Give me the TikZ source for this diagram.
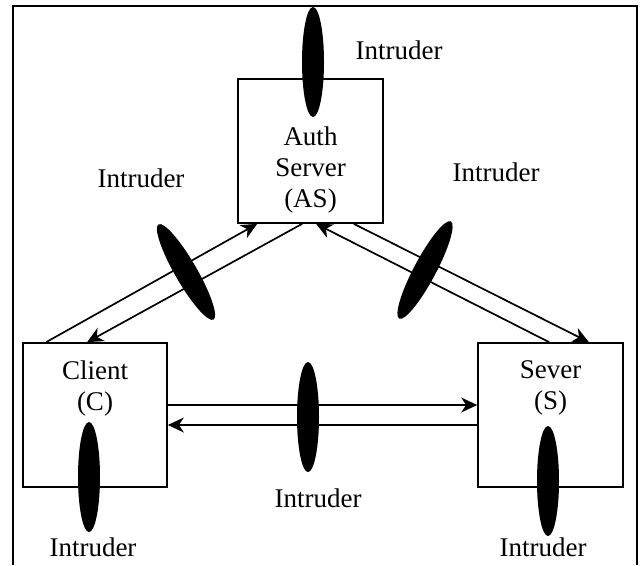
\documentclass[tikz,border=0pt]{standalone}
\usepackage{fontspec}
\setmainfont{Liberation Serif}
\usetikzlibrary{positioning,arrows.meta,shapes.geometric}

\begin{document}
\begin{tikzpicture}[x=1pt,y=-1pt,
    font=\fontsize{27}{31}\selectfont,
    box/.style={rectangle,draw,line width=1.7pt,minimum width=145pt,minimum height=144pt,inner sep=0pt},
    lbl/.style={align=center,inner sep=0pt},
    msg/.style={line width=1.7pt,-{Stealth[length=16pt,width=15pt,inset=5pt]}},
    intruder/.style={ellipse,fill=black,minimum width=22pt,minimum height=110pt,inner sep=0pt}
    ]
\useasboundingbox (0,0) rectangle (644,565);

% outer frame (open at the bottom)
\draw[line width=1.7pt] (13,565) -- (13,6) -- (637,6) -- (637,565);

% Auth server (top)
\node[box] (as) at (310.5,151) {};
\node[lbl] (astext) at (310.5,170) {Auth\\Server\\(AS)};

% Client (left)
\node[box,minimum width=144pt] (client) at (95,415) {};
\node[lbl] (clienttext) at (95,388) {Client\\(C)};

% Server (right)
\node[box] (server) at (550.5,415) {};
\node[lbl] (servertext) at (550.5,388) {Sever\\(S)};

% Messages between the parties
\draw[msg] ([xshift=24pt]client.north west) -- ([xshift=20pt]as.south west);
\draw[msg] ([xshift=65pt]as.south west) -- ([xshift=65pt]client.north west);
\draw[msg] ([xshift=-30pt]as.south east) -- ([xshift=-35pt]server.north east);
\draw[msg] ([xshift=72pt]server.north west) -- ([xshift=79pt]as.south west);
\draw[msg] ([yshift=10pt]client.east) -- ([yshift=10pt]server.west);
\draw[msg] ([yshift=-10pt]server.west) -- ([yshift=-10pt]client.east);

% Intruders on every link
\node[intruder] (itop) at (313,62) {};
\node[intruder,rotate=30] (ileft) at (186,272) {};
\node[intruder,rotate=-28] (iright) at (425,270) {};
\node[intruder] (imid) at (308,417) {};
\node[intruder] (iclient) at (89,477) {};
\node[intruder] (iserver) at (548,481) {};

\node (ltop) at (399,50) {Intruder};
\node (lleft) at (141,178) {Intruder};
\node (lright) at (496,172) {Intruder};
\node (lmid) at (318,498) {Intruder};
\node (lclient) at (93,547) {Intruder};
\node (lserver) at (543,547) {Intruder};

\end{tikzpicture}
\end{document}
